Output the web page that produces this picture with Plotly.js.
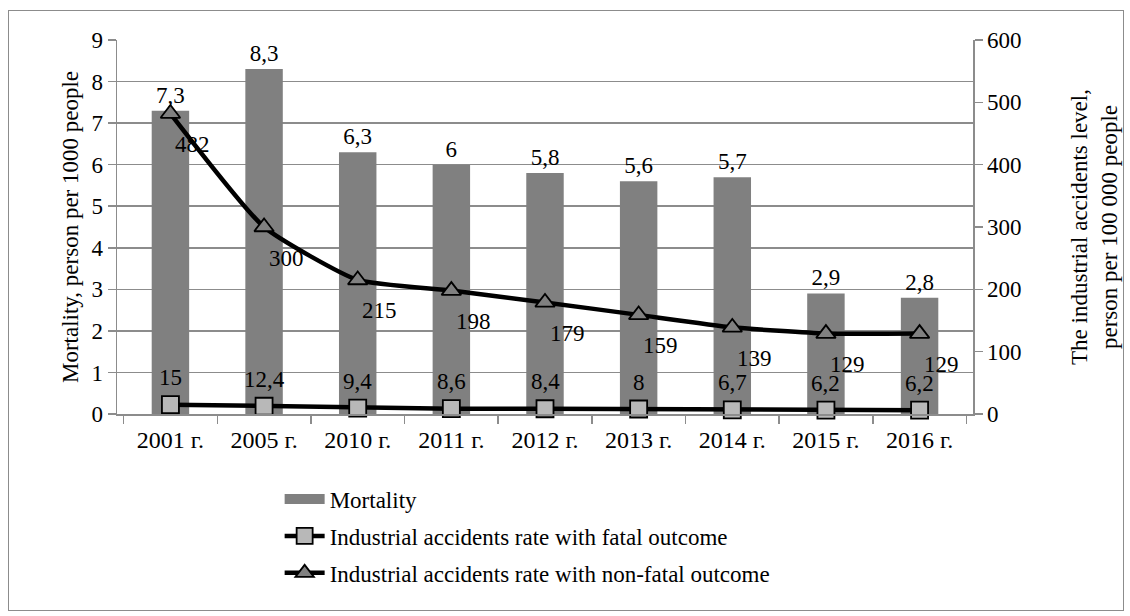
<!DOCTYPE html>
<html>
<head>
<meta charset="utf-8">
<script src="https://cdn.plot.ly/plotly-3.0.1.min.js"></script>
<style>
  html, body { margin: 0; padding: 0; background: #fff; }
  #frame { position: absolute; left: 8px; top: 10px; width: 1114px; height: 599px; border: 1px solid #8c8c8c; }
  #chart { width: 1114px; height: 599px; }
</style>
</head>
<body>
<div id="frame"><div id="chart"></div></div>
<script>
const categories = ["2001 г.", "2005 г.", "2010 г.", "2011 г.", "2012 г.", "2013 г.", "2014 г.", "2015 г.", "2016 г."];
const mortality = [7.3, 8.3, 6.3, 6, 5.8, 5.6, 5.7, 2.9, 2.8];
const fatalRate = [15, 12.4, 9.4, 8.6, 8.4, 8, 6.7, 6.2, 6.2];
const nonFatalRate = [482, 300, 215, 198, 179, 159, 139, 129, 129];

const fmt = v => String(v).replace('.', ',');
const FONT = "'Liberation Serif', 'Times New Roman', serif";
const F = (s) => ({ family: FONT, size: s || 23, color: '#000' });

const traces = [
  {
    type: 'bar', name: 'Mortality', x: categories, y: mortality,
    marker: { color: '#808080' },
    text: mortality.map(fmt), textposition: 'outside', cliponaxis: false,
    textfont: F(23), showlegend: false
  },
  {
    // legend entry for the bars (wide gray swatch like the reference)
    type: 'scatter', mode: 'lines', name: 'Mortality', x: [null], y: [null],
    line: { color: '#808080', width: 14 }, legendgroup: 'a', showlegend: true
  },
  {
    type: 'scatter', mode: 'lines+markers', name: 'Industrial accidents rate with fatal outcome',
    x: categories, y: fatalRate, yaxis: 'y2',
    line: { color: '#000', width: 4.5 },
    marker: { symbol: 'square', size: 17, color: '#b8b8b8', line: { color: '#000', width: 1.8 } },
    legendgroup: 'b', cliponaxis: false
  },
  {
    type: 'scatter', mode: 'lines+markers', name: 'Industrial accidents rate with non-fatal outcome',
    x: categories, y: nonFatalRate, yaxis: 'y2',
    line: { color: '#000', width: 4.5, shape: 'spline', smoothing: 0.5 },
    marker: { symbol: 'triangle-up', size: 17, color: '#808080', line: { color: '#000', width: 1.8 } },
    legendgroup: 'c', cliponaxis: false
  }
];

const annotations = [];
categories.forEach((c, i) => {
  annotations.push({
    x: c, y: nonFatalRate[i], xref: 'x', yref: 'y2', text: fmt(nonFatalRate[i]),
    showarrow: false, xshift: 22, yshift: -31, font: F(23)
  });
  annotations.push({
    x: c, y: fatalRate[i], xref: 'x', yref: 'y2', text: fmt(fatalRate[i]),
    showarrow: false, xshift: 0, yshift: 27, font: F(23)
  });
});

const layout = {
  width: 1114, height: 599,
  margin: { l: 108, r: 150, t: 29, b: 196 },
  paper_bgcolor: '#fff', plot_bgcolor: '#fff',
  font: F(23),
  bargap: 0.6,
  showlegend: true,
  legend: {
    x: 0.19, y: -0.17, xanchor: 'left', yanchor: 'top',
    orientation: 'v', traceorder: 'grouped', tracegroupgap: 4,
    font: F(23), itemwidth: 40
  },
  xaxis: {
    type: 'category', tickson: 'boundaries', ticks: 'outside', ticklen: 8,
    tickcolor: '#8c8c8c', tickwidth: 1.5, ticklabelstandoff: 4,
    showline: true, linecolor: '#8c8c8c', linewidth: 1.5,
    showgrid: false, tickfont: F(24), fixedrange: true
  },
  yaxis: {
    range: [0, 9], dtick: 1, tick0: 0,
    showgrid: true, gridcolor: '#8c8c8c', gridwidth: 1.5,
    showline: true, linecolor: '#8c8c8c', linewidth: 1.5,
    ticks: 'outside', ticklen: 8, tickcolor: '#8c8c8c', tickwidth: 1.5,
    zeroline: false, tickfont: F(23),
    title: { text: 'Mortality, person per 1000 people', font: F(23), standoff: 6 }
  },
  yaxis2: {
    overlaying: 'y', side: 'right', range: [0, 600], dtick: 100, tick0: 0,
    showgrid: false, zeroline: false,
    showline: true, linecolor: '#8c8c8c', linewidth: 1.5,
    ticks: 'outside', ticklen: 8, tickcolor: '#8c8c8c', tickwidth: 1.5,
    tickfont: F(23),
    title: { text: 'The industrial accidents level,<br>person per 100 000 people', font: F(23), standoff: 50 }
  },
  annotations: annotations
};

Plotly.newPlot('chart', traces, layout, { displayModeBar: false, staticPlot: true });
</script>
</body>
</html>
